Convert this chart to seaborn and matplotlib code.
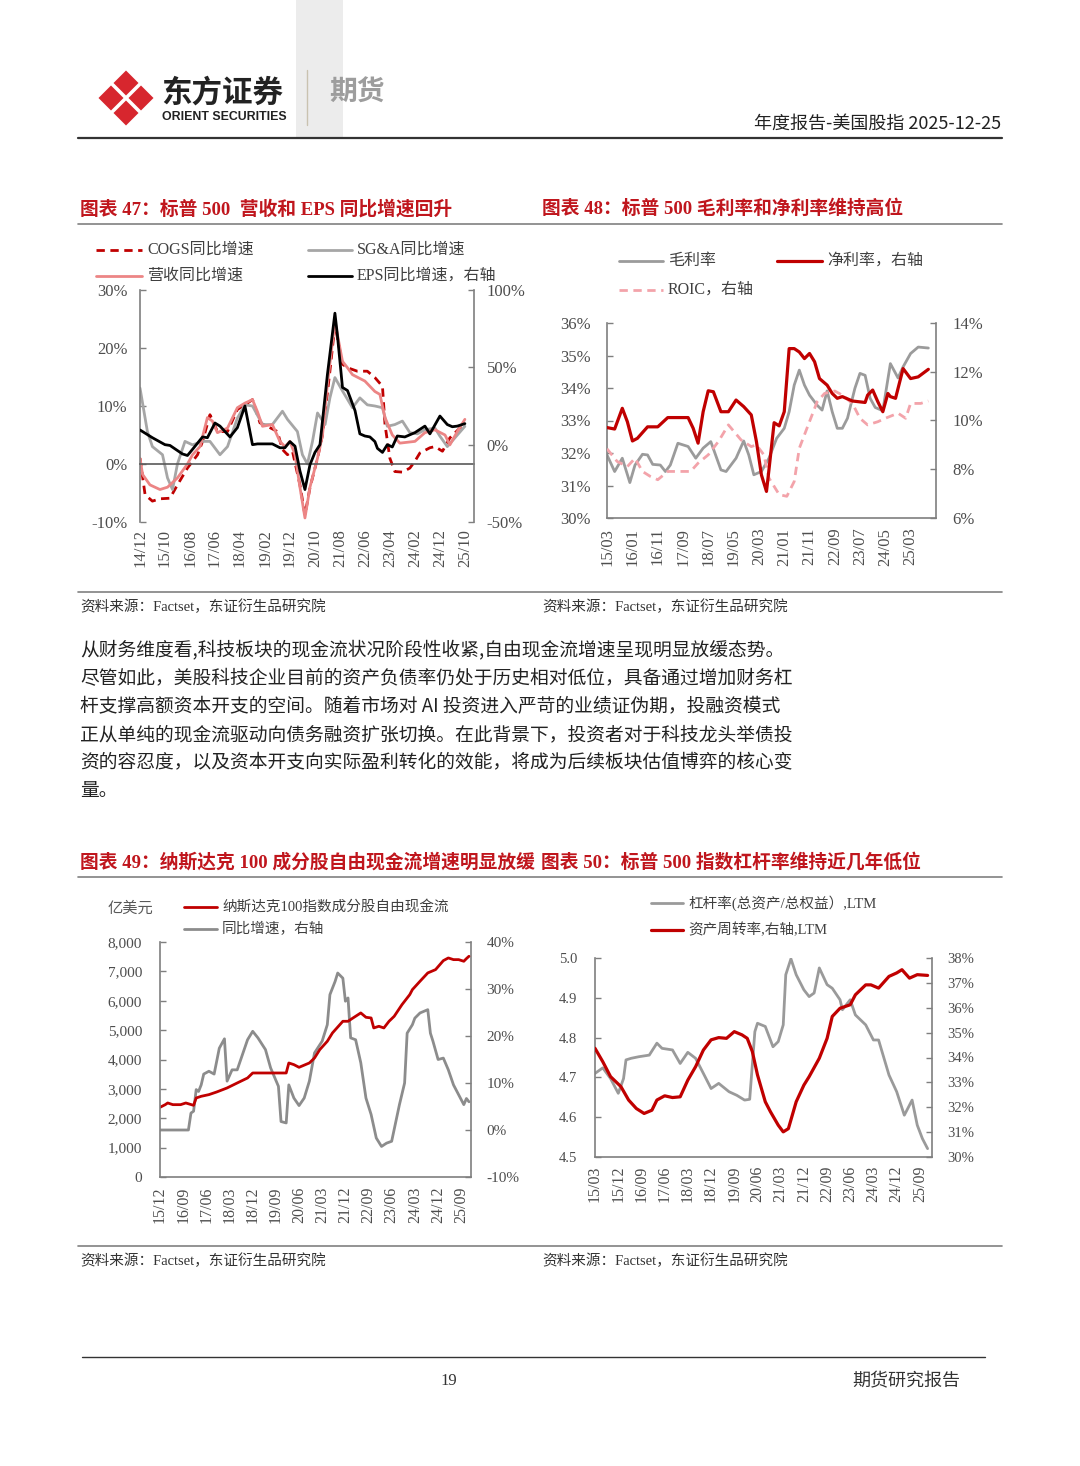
import numpy as np
import pandas as pd
import matplotlib
matplotlib.use('Agg')
import matplotlib.pyplot as plt
import seaborn as sns
from matplotlib.lines import Line2D
from matplotlib.patches import Polygon, Rectangle
from matplotlib.ticker import FuncFormatter

sns.set_style('white')
plt.rcParams['font.family'] = ['Liberation Serif', 'Noto Sans CJK SC']
plt.rcParams['axes.unicode_minus'] = False

# ---------------- 图表47 data (YoY, %) ----------------
cogs_dates = ['2014-12', '2015-02', '2015-05', '2015-08', '2015-12', '2016-03', '2016-07', '2016-11', '2017-01', '2017-04',
              '2017-07', '2017-11', '2018-03', '2018-07', '2018-09', '2018-12', '2019-03', '2019-07', '2019-09', '2019-11',
              '2020-01', '2020-04', '2020-06', '2020-08', '2020-11', '2021-01', '2021-04', '2021-06', '2021-09', '2021-11',
              '2022-03', '2022-07', '2022-10', '2023-01', '2023-02', '2023-04', '2023-06', '2023-09', '2023-12', '2024-02',
              '2024-04', '2024-08', '2024-10', '2025-01', '2025-04', '2025-08', '2025-10']
cogs_yoy = [1, -5.3, -6.4, -6, -5.9, -3.6, -0.7, 1.6, 3.9, 8.5,
            5.6, 5.6, 9.4, 10.5, 11.1, 7.1, 6.5, 5.6, 2.5, 1.6,
            2.2, -3.6, -8.8, -4.1, 1, 5, 16, 24, 17.2, 16.6,
            16, 16, 14.9, 13.4, 6.8, 1, -1.3, -1.4, -0.7, 0.5,
            1.9, 2.8, 3, 2.2, 4.5, 6.2, 6.8]

sga_dates = ['2014-12', '2015-03', '2015-05', '2015-09', '2015-11', '2016-01', '2016-03', '2016-06', '2016-09', '2017-01',
             '2017-04', '2017-08', '2017-11', '2018-03', '2018-06', '2018-09', '2019-01', '2019-05', '2019-09', '2019-11',
             '2020-03', '2020-05', '2020-07', '2020-09', '2020-11', '2021-02', '2021-04', '2021-06', '2021-09', '2022-01',
             '2022-04', '2022-07', '2022-10', '2023-01', '2023-03', '2023-06', '2023-09', '2023-12', '2024-03', '2024-06',
             '2024-10', '2024-12', '2025-03', '2025-06', '2025-10']
sga_yoy = [13.1, 5.6, 3, 1.6, -2.4, -4.4, 0, 3.9, 3.3, 3.9,
           3.9, 1.6, 3, 7.9, 10.2, 10, 6.8, 6.8, 9.1, 7.7,
           5.6, 1.6, 0, 3.9, 8.8, 6.8, 11.4, 14.9, 12.6, 9.7,
           11.4, 10.2, 10, 9.7, 6.5, 6.8, 7.4, 5.4, 5.2, 5.9,
           6.2, 4.8, 3, 4.5, 6.5]

rev_dates = ['2014-12', '2015-01', '2015-04', '2015-08', '2015-11', '2016-03', '2016-07', '2016-09', '2016-12', '2017-03',
             '2017-05', '2017-07', '2017-11', '2018-03', '2018-06', '2018-09', '2018-11', '2019-01', '2019-05', '2019-08',
             '2019-10', '2019-12', '2020-02', '2020-04', '2020-06', '2020-08', '2020-11', '2021-01', '2021-03', '2021-06',
             '2021-09', '2021-11', '2022-01', '2022-06', '2022-10', '2022-12', '2023-02', '2023-05', '2023-08', '2024-02',
             '2024-06', '2024-10', '2025-02', '2025-04', '2025-07', '2025-10']
rev_yoy = [1, -1.8, -3.6, -4.4, -4, -2.4, 0, 1.6, 3, 8,
           7.4, 5.4, 6.2, 9.7, 10.5, 11.1, 9, 6.5, 6.8, 3.9,
           3, 3.9, 1.6, -4, -9.3, -4, 1, 5, 13.7, 24.6,
           17.7, 16.6, 15.4, 14.3, 12.5, 12, 8, 5, 3.6, 3.9,
           5.4, 5.9, 5, 3.3, 5.6, 7.7]

eps_dates = ['2014-12', '2015-05', '2015-10', '2015-12', '2016-05', '2016-07', '2016-09', '2017-01', '2017-03', '2017-06',
             '2017-08', '2017-12', '2018-03', '2018-06', '2018-09', '2018-11', '2019-05', '2019-08', '2019-10', '2019-12',
             '2020-02', '2020-04', '2020-06', '2020-08', '2020-10', '2020-12', '2021-03', '2021-06', '2021-07', '2021-09',
             '2021-11', '2022-02', '2022-04', '2022-06', '2022-08', '2022-10', '2022-11', '2023-01', '2023-03', '2023-05',
             '2023-07', '2023-10', '2024-02', '2024-06', '2024-08', '2024-12', '2025-03', '2025-05', '2025-07', '2025-10']
eps_yoy = [9.5, 4.5, 0, -0.5, -6, -7, -3, 5, 4.5, 14,
           12, 5, 11, 25, 0, 0.5, 0.5, -2, -2, 2,
           -1, -17, -29, -13, -5, 0, 45, 85, 71, 37,
           35, 22, 7, 5.6, 5, 2, -2.4, -5, 0, -1.5,
           5.6, 5, 7.8, 12, 7, 18.5, 13, 11.6, 12, 13.6]

# ---------------- 图表48 data (%) ----------------
gm_dates = ['2015-03', '2015-06', '2015-09', '2015-12', '2016-02', '2016-05', '2016-07', '2016-09', '2016-12', '2017-02',
            '2017-04', '2017-07', '2017-11', '2018-02', '2018-05', '2018-08', '2018-12', '2019-02', '2019-06', '2019-09',
            '2019-11', '2020-01', '2020-04', '2020-07', '2020-10', '2021-01', '2021-03', '2021-05', '2021-07', '2021-09',
            '2021-11', '2022-02', '2022-04', '2022-06', '2022-08', '2022-10', '2022-12', '2023-02', '2023-05', '2023-07',
            '2023-09', '2023-11', '2024-01', '2024-04', '2024-07', '2024-10', '2024-12', '2025-03', '2025-06', '2025-10']
gross_margin = [31.94, 31.43, 31.84, 31.09, 31.63, 31.96, 31.94, 31.65, 31.63, 31.43,
                31.63, 32.30, 32.2, 31.84, 32.15, 32.35, 31.48, 31.43, 31.84, 32.37,
                31.94, 31.33, 31.43, 31.84, 32.45, 32.76, 33.27, 34.09, 34.55, 34.09,
                33.78, 33.47, 33.32, 33.91, 33.27, 32.76, 32.76, 33.07, 33.99, 34.45,
                34.39, 33.68, 33.4, 33.3, 34.75, 34.31, 34.65, 35.06, 35.26, 35.23]

nm_dates = ['2015-03', '2015-06', '2015-09', '2015-11', '2016-01', '2016-03', '2016-07', '2016-11', '2017-03', '2017-05',
            '2017-11', '2018-01', '2018-03', '2018-05', '2018-07', '2018-09', '2018-12', '2019-03', '2019-06', '2019-09',
            '2019-12', '2020-02', '2020-04', '2020-06', '2020-07', '2020-09', '2020-11', '2021-01', '2021-03', '2021-05',
            '2021-07', '2021-09', '2021-11', '2022-01', '2022-03', '2022-06', '2022-08', '2022-10', '2022-12', '2023-04',
            '2023-09', '2023-10', '2023-12', '2024-02', '2024-04', '2024-06', '2024-07', '2024-09', '2024-12', '2025-03',
            '2025-06', '2025-10']
net_margin = [9.71, 9.65, 10.5, 9.95, 9.16, 9.27, 9.74, 9.74, 10.12, 10.12,
              10.12, 9.68, 9.07, 10.36, 11.22, 11.18, 10.36, 10.36, 10.84, 10.57,
              10.23, 9.14, 7.77, 7.09, 7.98, 9.91, 9.78, 10.36, 12.95, 12.95,
              12.81, 12.54, 12.75, 12.41, 11.72, 11.45, 11.11, 10.91, 10.98, 10.8,
              10.74, 11.04, 11.25, 10.77, 10.36, 11.11, 10.98, 10.91, 12.13, 11.72,
              11.79, 12.1]

roic_dates = ['2015-03', '2015-07', '2015-11', '2016-02', '2016-05', '2016-08', '2016-11', '2017-03', '2017-08', '2017-12',
              '2018-03', '2018-07', '2018-11', '2019-03', '2019-08', '2019-12', '2020-02', '2020-05', '2020-07', '2020-11',
              '2021-02', '2021-05', '2021-07', '2021-10', '2022-02', '2022-05', '2022-09', '2022-12', '2023-04', '2023-07',
              '2023-10', '2024-02', '2024-05', '2024-10', '2025-01', '2025-03', '2025-07', '2025-10']
roic = [8.84, 8.32, 8.11, 8.45, 7.91, 7.71, 7.57, 7.91, 7.91, 7.91,
        8.25, 8.59, 9.14, 9.82, 9.2, 8.93, 9.0, 8.59, 7.64, 6.96,
        6.89, 7.5, 8.86, 9.68, 10.77, 11.11, 11.21, 11.04, 10.7, 10.09,
        9.82, 9.95, 10.09, 10.3, 10.09, 10.7, 10.7, 10.8]

# ---------------- 图表49 data ----------------
fcf_dates = ['2015-12', '2016-02', '2016-03', '2016-05', '2016-08', '2016-10', '2017-01', '2017-02', '2017-04', '2017-07',
             '2017-10', '2018-02', '2018-06', '2018-10', '2018-12', '2019-03', '2019-07', '2019-11', '2020-01', '2020-02',
             '2020-04', '2020-06', '2020-10', '2020-12', '2021-02', '2021-05', '2021-07', '2021-11', '2022-01', '2022-03',
             '2022-06', '2022-08', '2022-10', '2022-11', '2023-01', '2023-03', '2023-05', '2023-07', '2023-10', '2024-01',
             '2024-02', '2024-05', '2024-08', '2024-11', '2025-02', '2025-04', '2025-06', '2025-08', '2025-10', '2025-11',
             '2025-12']
fcf = [2372, 2463, 2520, 2463, 2463, 2520, 2440, 2690, 2747, 2804,
       2894, 3031, 3201, 3371, 3541, 3541, 3541, 3541, 3541, 3882,
       3825, 3734, 3882, 4052, 4336, 4620, 4904, 5301, 5301, 5414,
       5585, 5437, 5414, 5074, 5131, 5074, 5301, 5471, 5868, 6209,
       6379, 6663, 6947, 7060, 7366, 7457, 7400, 7400, 7344, 7435,
       7514]

yoy_dates = ['2015-12', '2016-11', '2016-12', '2017-01', '2017-02', '2017-03', '2017-04', '2017-05', '2017-07', '2017-09',
             '2017-11', '2018-01', '2018-02', '2018-04', '2018-06', '2018-08', '2018-10', '2018-12', '2019-02', '2019-05',
             '2019-07', '2019-10', '2019-11', '2020-01', '2020-02', '2020-04', '2020-06', '2020-08', '2020-10', '2020-12',
             '2021-03', '2021-05', '2021-06', '2021-08', '2021-09', '2021-11', '2021-12', '2022-01', '2022-02', '2022-04',
             '2022-06', '2022-08', '2022-10', '2022-12', '2023-02', '2023-04', '2023-06', '2023-09', '2023-11', '2023-12',
             '2024-02', '2024-03', '2024-05', '2024-08', '2024-09', '2024-10', '2024-12', '2025-02', '2025-04', '2025-06',
             '2025-08', '2025-10', '2025-11', '2025-12']
fcf_yoy = [0, 0, 3.6, 4, 8.6, 8.2, 9.6, 11.9, 12.5, 11.9,
           17.4, 19.4, 10.4, 12.8, 12.8, 16, 19.2, 21, 19.6, 17.1,
           13.2, 9.3, 1.8, 1.5, 9.6, 6.8, 5.2, 6.8, 10.4, 16.4,
           18.9, 22.4, 28.8, 31.6, 33.4, 32.3, 27.4, 28.1, 19.6, 19.2,
           14.3, 6.8, 3.3, -1.7, -3.5, -2.8, -2.4, 5.4, 10, 20.6,
           22.4, 23.8, 24.9, 25.6, 20.6, 18.9, 15, 15.3, 12.8, 9.6,
           7.5, 5.4, 6.7, 6]

# ---------------- 图表50 data ----------------
lev_dates = ['2015-03', '2015-06', '2015-09', '2015-12', '2016-02', '2016-03', '2016-05', '2016-08', '2016-12', '2017-03',
             '2017-05', '2017-09', '2017-12', '2018-03', '2018-06', '2018-09', '2018-12', '2019-03', '2019-07', '2019-10',
             '2020-01', '2020-03', '2020-05', '2020-06', '2020-09', '2020-12', '2021-02', '2021-04', '2021-05', '2021-07',
             '2021-09', '2021-12', '2022-02', '2022-04', '2022-06', '2022-09', '2022-11', '2023-02', '2023-03', '2023-06',
             '2023-08', '2023-12', '2024-03', '2024-05', '2024-09', '2024-12', '2025-03', '2025-06', '2025-08', '2025-10',
             '2025-12']
leverage = [4.71, 4.724, 4.697, 4.66, 4.697, 4.744, 4.748, 4.752, 4.756, 4.786,
            4.773, 4.769, 4.735, 4.763, 4.748, 4.71, 4.672, 4.685, 4.664, 4.655,
            4.643, 4.645, 4.815, 4.836, 4.828, 4.777, 4.79, 4.832, 4.958, 4.998,
            4.958, 4.92, 4.903, 4.912, 4.975, 4.933, 4.924, 4.895, 4.87, 4.895,
            4.857, 4.832, 4.794, 4.794, 4.706, 4.664, 4.605, 4.643, 4.58, 4.546,
            4.521]

to_dates = ['2015-03', '2015-06', '2015-09', '2016-01', '2016-04', '2016-07', '2016-10', '2017-01', '2017-03', '2017-06',
            '2017-09', '2017-12', '2018-03', '2018-06', '2018-09', '2018-12', '2019-03', '2019-06', '2019-09', '2019-12',
            '2020-02', '2020-04', '2020-06', '2020-09', '2020-11', '2021-02', '2021-04', '2021-06', '2021-09', '2021-12',
            '2022-02', '2022-06', '2022-09', '2022-11', '2023-02', '2023-06', '2023-08', '2023-12', '2024-02', '2024-05',
            '2024-09', '2024-12', '2025-02', '2025-05', '2025-08', '2025-12']
turnover = [34.37, 33.83, 33.23, 32.83, 32.29, 31.95, 31.75, 31.88, 32.29, 32.46,
            32.39, 32.42, 33.09, 33.63, 34.3, 34.71, 34.8, 34.77, 35.04, 34.91,
            34.77, 34.24, 33.3, 32.22, 31.82, 31.28, 31.01, 31.14, 32.22, 32.89,
            33.23, 33.97, 34.77, 35.65, 35.98, 36.12, 36.52, 36.92, 36.92, 36.79,
            37.26, 37.4, 37.53, 37.19, 37.33, 37.3]

paragraph = [
    '从财务维度看,科技板块的现金流状况阶段性收紧,自由现金流增速呈现明显放缓态势。',
    '尽管如此，美股科技企业目前的资产负债率仍处于历史相对低位，具备通过增加财务杠',
    '杆支撑高额资本开支的空间。随着市场对 AI 投资进入严苛的业绩证伪期，投融资模式',
    '正从单纯的现金流驱动向债务融资扩张切换。在此背景下，投资者对于科技龙头举债投',
    '资的容忍度，以及资本开支向实际盈利转化的效能，将成为后续板块估值博弈的核心变',
    '量。',
]

RED = '#c00000'
TITLE_RED = '#c0161d'
SPINE = '#7f7f7f'
TICKC = '#4d4d4d'

W, H = 1080, 1466
fig = plt.figure(figsize=(W / 100, H / 100), dpi=100)


def fx(x):
    return x / W


def fy(y):
    return 1 - y / H


def rule(x0, x1, y, color='#808080', lw=1.2):
    fig.add_artist(Line2D([fx(x0), fx(x1)], [fy(y), fy(y)], color=color, lw=lw))


def text(x, y, s, **kw):
    kw.setdefault('va', 'center')
    fig.text(fx(x), fy(y), s, **kw)


def key(x0, x1, y, label, color, ls='-', lw=2.0, size=11.5):
    fig.add_artist(Line2D([fx(x0), fx(x1)], [fy(y), fy(y)], color=color, ls=ls, lw=lw))
    text(x1 + 5, y, label, fontsize=size, color='#404040')


def make_axes(l, t, r, b):
    ax = fig.add_axes([fx(l), fy(b), (r - l) / W, (b - t) / H])
    ax2 = ax.twinx()
    return ax, ax2


def line(ax, dates, vals, color, lw=2.0, ls='-'):
    sns.lineplot(x=pd.to_datetime(dates), y=vals, ax=ax, color=color, linewidth=lw,
                 linestyle=ls, errorbar=None, legend=False)


def style(ax, ax2, xlim, xticks, yl, yr, lfmt, rfmt, ysize=12, xsize=12, xpad=6,
          lpad=9, rpad=9, zero_axis=False):
    for a in (ax, ax2):
        for s in a.spines.values():
            s.set_color(SPINE)
            s.set_linewidth(1.2)
        a.spines['top'].set_visible(False)
        a.set_xlabel('')
        a.set_ylabel('')
    ax.spines['right'].set_visible(False)
    ax2.spines['left'].set_visible(False)
    ax2.spines['bottom'].set_visible(False)
    if zero_axis:
        ax.spines['bottom'].set_position(('data', 0))
        ax.spines['bottom'].set_color('#595959')
    ax.set_xlim(pd.Timestamp(xlim[0]), pd.Timestamp(xlim[1]))
    ax.set_ylim(yl[0], yl[-1])
    ax.set_yticks(yl)
    ax2.set_ylim(yr[0], yr[-1])
    ax2.set_yticks(yr)
    ax.yaxis.set_major_formatter(FuncFormatter(lfmt))
    ax2.yaxis.set_major_formatter(FuncFormatter(rfmt))
    ax.set_xticks(xticks)
    ax.set_xticklabels([t.strftime('%y/%m') for t in xticks])
    ax.tick_params(axis='y', direction='in', length=4, width=1, color=SPINE,
                   labelsize=ysize, labelcolor=TICKC, pad=lpad)
    ax2.tick_params(axis='y', direction='in', length=4, width=1, color=SPINE,
                    labelsize=ysize, labelcolor=TICKC, pad=rpad)
    ax.tick_params(axis='x', direction='out' if zero_axis else 'in', length=4, width=1,
                   color='#595959' if zero_axis else SPINE, labelsize=xsize,
                   labelcolor=TICKC, pad=xpad, labelrotation=90)


pct = lambda v, _: f'{v:.0f}%'

# ---------------- header ----------------
fig.add_artist(Rectangle((fx(296), fy(137)), (343 - 296) / W, 137 / H, color='#ececec', lw=0, zorder=0))
cx, cy, d, r = 126, 98, 15, 12.5
for ox, oy in [(0, -d), (0, d), (-d, 0), (d, 0)]:
    px, py = cx + ox, cy + oy
    pts = [(fx(px), fy(py - r)), (fx(px + r), fy(py)), (fx(px), fy(py + r)), (fx(px - r), fy(py))]
    fig.add_artist(Polygon(pts, closed=True, color='#d7262e', lw=0))
text(161, 93, '东方证券', fontsize=22, fontweight='bold', color='#222222',
     family=['Noto Sans CJK SC'])
text(162, 117, 'ORIENT SECURITIES', fontsize=8.9, fontweight='bold', color='#222222',
     family=['Liberation Sans'])
fig.add_artist(Line2D([fx(307), fx(307)], [fy(70), fy(125)], color='#c9c2b0', lw=1))
text(329, 93, '期货', fontsize=20, fontweight='bold', color='#9d9d9d', family=['Noto Sans CJK SC'])
text(1001, 124, '年度报告-美国股指 2025-12-25', fontsize=13, color='#222222', ha='right',
     family=['Noto Sans CJK SC'])
rule(78, 1002, 138, color='#333333', lw=1.6)

# ---------------- titles / rules ----------------
text(80, 209, '图表 47：标普 500  营收和 EPS 同比增速回升', fontsize=13.5, fontweight='bold', color=TITLE_RED)
text(542, 209, '图表 48：标普 500 毛利率和净利率维持高位', fontsize=13.5, fontweight='bold', color=TITLE_RED)
rule(78, 1002, 224)
rule(78, 1002, 592)
text(80, 607, '资料来源：Factset，东证衍生品研究院', fontsize=10.5, color='#333333')
text(542, 607, '资料来源：Factset，东证衍生品研究院', fontsize=10.5, color='#333333')

for i, ln in enumerate(paragraph):
    text(80, 650 + i * 28.2, ln, fontsize=13.5, color='#222222', family=['Noto Sans CJK SC'])

text(80, 862, '图表 49：纳斯达克 100 成分股自由现金流增速明显放缓', fontsize=13.5, fontweight='bold', color=TITLE_RED)
text(541, 862, '图表 50：标普 500 指数杠杆率维持近几年低位', fontsize=13.5, fontweight='bold', color=TITLE_RED)
rule(78, 1002, 877)
rule(78, 1002, 1246)
text(80, 1261, '资料来源：Factset，东证衍生品研究院', fontsize=10.5, color='#333333')
text(542, 1261, '资料来源：Factset，东证衍生品研究院', fontsize=10.5, color='#333333')

# ---------------- footer ----------------
rule(82, 985, 1357, color='#333333', lw=1.0)
text(449, 1381, '19', fontsize=12, color='#333333', ha='center')
text(960, 1381, '期货研究报告', fontsize=13, color='#333333', ha='right', family=['Noto Sans CJK SC'])

# ---------------- 图表47 ----------------
ax, ax2 = make_axes(140, 290, 474, 522)
line(ax, cogs_dates, cogs_yoy, RED, ls=(0, (3, 2)))
line(ax, sga_dates, sga_yoy, '#a6a6a6')
line(ax, rev_dates, rev_yoy, '#ec8585')
line(ax2, eps_dates, eps_yoy, '#000000')
style(ax, ax2, ('2014-12-01', '2026-01-20'), pd.date_range('2014-12-01', periods=14, freq='10MS'),
      [-10, 0, 10, 20, 30], [-50, 0, 50, 100], pct, pct, xpad=43, zero_axis=True)
key(96, 142, 250, 'COGS同比增速', RED, ls=(0, (3, 2)))
key(308, 352, 250, 'SG&A同比增速', '#a6a6a6')
key(96, 142, 276, '营收同比增速', '#ec8585')
key(308, 352, 276, 'EPS同比增速，右轴', '#000000')

# ---------------- 图表48 ----------------
ax, ax2 = make_axes(607, 323, 936, 518)
line(ax, gm_dates, gross_margin, '#9b9b9b')
line(ax2, roic_dates, roic, '#f3a3aa', ls=(0, (3, 2)))
line(ax2, nm_dates, net_margin, RED, lw=2.3)
style(ax, ax2, ('2015-03-01', '2026-01-01'), pd.date_range('2015-03-01', periods=13, freq='10MS'),
      [30, 31, 32, 33, 34, 35, 36], [6, 8, 10, 12, 14], pct, pct, xpad=7, lpad=12, rpad=12)
key(619, 663, 261, '毛利率', '#9b9b9b')
key(777, 822, 261, '净利率，右轴', RED, lw=2.3)
key(619, 663, 290, 'ROIC，右轴', '#f3a3aa', ls=(0, (3, 2)))

# ---------------- 图表49 ----------------
ax, ax2 = make_axes(160, 942, 471, 1177)
line(ax, fcf_dates, fcf, RED)
line(ax2, yoy_dates, fcf_yoy, '#8c8c8c')
style(ax, ax2, ('2015-12-01', '2025-12-25'), pd.date_range('2015-12-01', periods=14, freq='9MS'),
      list(range(0, 8001, 1000)), [-10, 0, 10, 20, 30, 40], lambda v, _: f'{v:,.0f}', pct,
      ysize=11, xsize=11.5, xpad=7, lpad=13, rpad=11)
ax.set_zorder(ax2.get_zorder() + 1)
ax.patch.set_visible(False)
text(108, 909, '亿美元', fontsize=11, color='#595959')
key(184, 217, 907, '纳斯达克100指数成分股自由现金流', RED, size=10.5)
key(184, 217, 929, '同比增速，右轴', '#8c8c8c', size=10.5)

# ---------------- 图表50 ----------------
ax, ax2 = make_axes(595, 958, 932, 1157)
line(ax, lev_dates, leverage, '#9a9a9a')
line(ax2, to_dates, turnover, RED, lw=2.3)
style(ax, ax2, ('2015-03-01', '2026-01-22'), pd.date_range('2015-03-01', periods=15, freq='9MS'),
      [4.5, 4.6, 4.7, 4.8, 4.9, 5.0], list(range(30, 39)), lambda v, _: f'{v:.1f}', pct,
      ysize=10.5, xsize=11.5, xpad=6, lpad=13, rpad=11)
key(651, 683, 903, '杠杆率(总资产/总权益）,LTM', '#9a9a9a', size=10.5)
key(651, 683, 930, '资产周转率,右轴,LTM', RED, lw=2.3, size=10.5)

fig.savefig('out.png', dpi=100, facecolor='white')
